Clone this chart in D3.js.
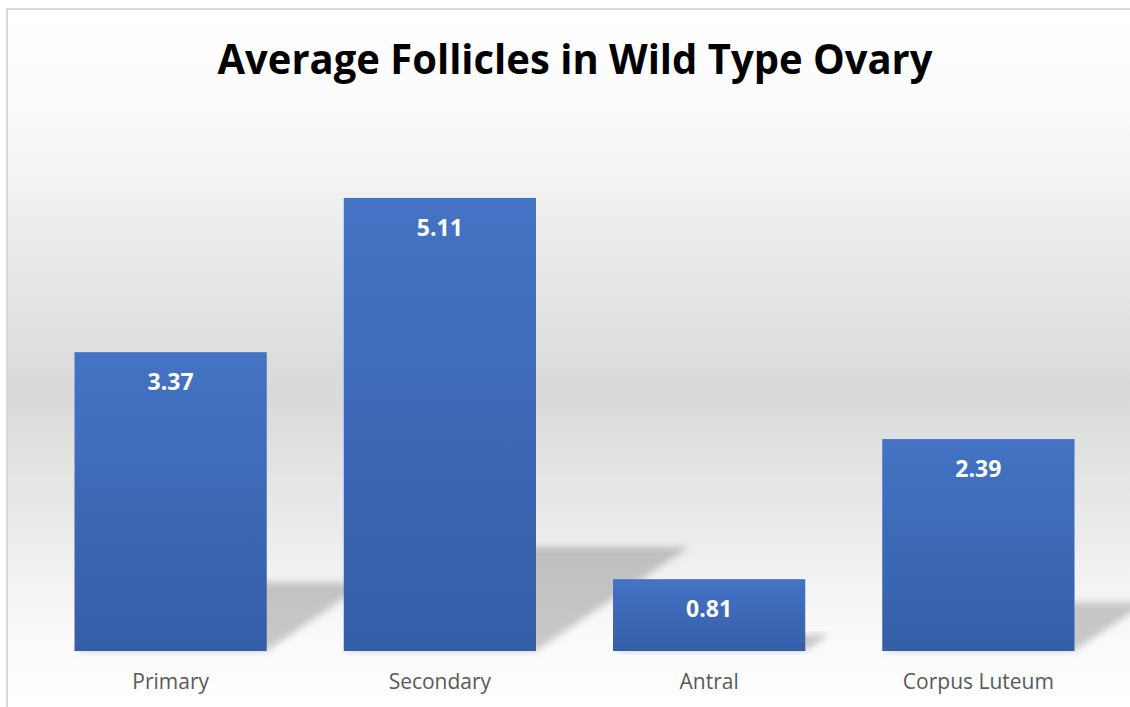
<!DOCTYPE html>
<html>
<head>
<meta charset="utf-8">
<script src="https://cdn.jsdelivr.net/npm/d3@7"></script>
<style>
  html, body { margin: 0; background: #fff; overflow: hidden; }
  svg { display: block; }
</style>
</head>
<body>
<div id="chart"></div>
<script>
const categories = ["Primary", "Secondary", "Antral", "Corpus Luteum"];
const values = [3.37, 5.11, 0.81, 2.39];
const title = "Average Follicles in Wild Type Ovary";

const width = 1130, height = 707;
const plot = { top: 119, bottom: 651, left: 36, right: 1113 };

const svg = d3.select("#chart")
  .append("svg")
  .attr("width", width)
  .attr("height", height);

const defs = svg.append("defs");

// background gradient: white -> gray -> white
const bg = defs.append("linearGradient")
  .attr("id", "bg").attr("x1", 0).attr("y1", 0).attr("x2", 0).attr("y2", 1);
[[0, "#ffffff"], [0.14, "#fbfbfb"], [0.55, "#d9d9d9"], [0.9, "#fafafa"], [1, "#ffffff"]]
  .forEach(([o, c]) => bg.append("stop").attr("offset", o).attr("stop-color", c));

// bar gradient
const barGrad = defs.append("linearGradient")
  .attr("id", "barGrad").attr("x1", 0).attr("y1", 0).attr("x2", 0).attr("y2", 1);
barGrad.append("stop").attr("offset", 0).attr("stop-color", "#4473c5");
barGrad.append("stop").attr("offset", 1).attr("stop-color", "#355ea8");

defs.append("filter").attr("id", "blur")
  .attr("x", "-20%").attr("y", "-20%").attr("width", "140%").attr("height", "140%")
  .append("feGaussianBlur").attr("stdDeviation", 3.5);

// chart area, its right and bottom edges run off the picture
svg.append("rect")
  .attr("x", 7).attr("y", 9)
  .attr("width", width + 40).attr("height", height - 9)
  .attr("fill", "url(#bg)");
svg.append("path")
  .attr("d", `M7,${height + 5}V9H${width + 5}`)
  .attr("fill", "none")
  .attr("stroke", "#d9d9d9")
  .attr("stroke-width", 2);

const x = d3.scaleBand()
  .domain(categories)
  .range([plot.left, plot.right])
  .paddingInner(0.286)
  .paddingOuter(0.143);

const y = d3.scaleLinear()
  .domain([0, 6])
  .range([plot.bottom, plot.top]);

// perspective shadows
const shadowScale = 0.23, skew = 1.47;
svg.append("g")
  .selectAll("polygon")
  .data(categories)
  .join("polygon")
  .attr("points", (d, i) => {
    const x0 = x(d), x1 = x(d) + x.bandwidth();
    const h = (y(0) - y(values[i])) * shadowScale;
    const dx = h * skew;
    return [[x0, y(0)], [x1, y(0)], [x1 + dx, y(0) - h], [x0 + dx, y(0) - h]]
      .map(p => p.join(",")).join(" ");
  })
  .attr("fill", "#000")
  .attr("fill-opacity", 0.2)
  .attr("filter", "url(#blur)");

// bars
svg.append("g")
  .selectAll("rect")
  .data(categories)
  .join("rect")
  .attr("x", d => x(d))
  .attr("y", (d, i) => y(values[i]))
  .attr("width", x.bandwidth())
  .attr("height", (d, i) => y(0) - y(values[i]))
  .attr("fill", "url(#barGrad)");

// value labels
svg.append("g")
  .selectAll("text")
  .data(categories)
  .join("text")
  .attr("x", d => x(d) + x.bandwidth() / 2)
  .attr("y", (d, i) => y(values[i]) + 38)
  .attr("text-anchor", "middle")
  .attr("fill", "#fff")
  .attr("font-family", "'Open Sans', sans-serif")
  .attr("font-weight", "bold")
  .attr("font-size", 23)
  .text((d, i) => values[i].toFixed(2));

// category axis
const axis = svg.append("g")
  .attr("transform", `translate(0,${plot.bottom})`)
  .call(d3.axisBottom(x).tickSize(0).tickPadding(0));
axis.select(".domain").remove();
axis.selectAll("text")
  .attr("y", 38)
  .attr("dy", 0)
  .attr("fill", "#595959")
  .attr("font-family", "'Open Sans', sans-serif")
  .attr("font-size", 21);

// title
svg.append("text")
  .attr("x", 575)
  .attr("y", 74)
  .attr("text-anchor", "middle")
  .attr("font-family", "'Open Sans', sans-serif")
  .attr("font-weight", "bold")
  .attr("font-size", 42)
  .attr("textLength", 715)
  .attr("lengthAdjust", "spacingAndGlyphs")
  .attr("fill", "#000")
  .text(title);
</script>
</body>
</html>
